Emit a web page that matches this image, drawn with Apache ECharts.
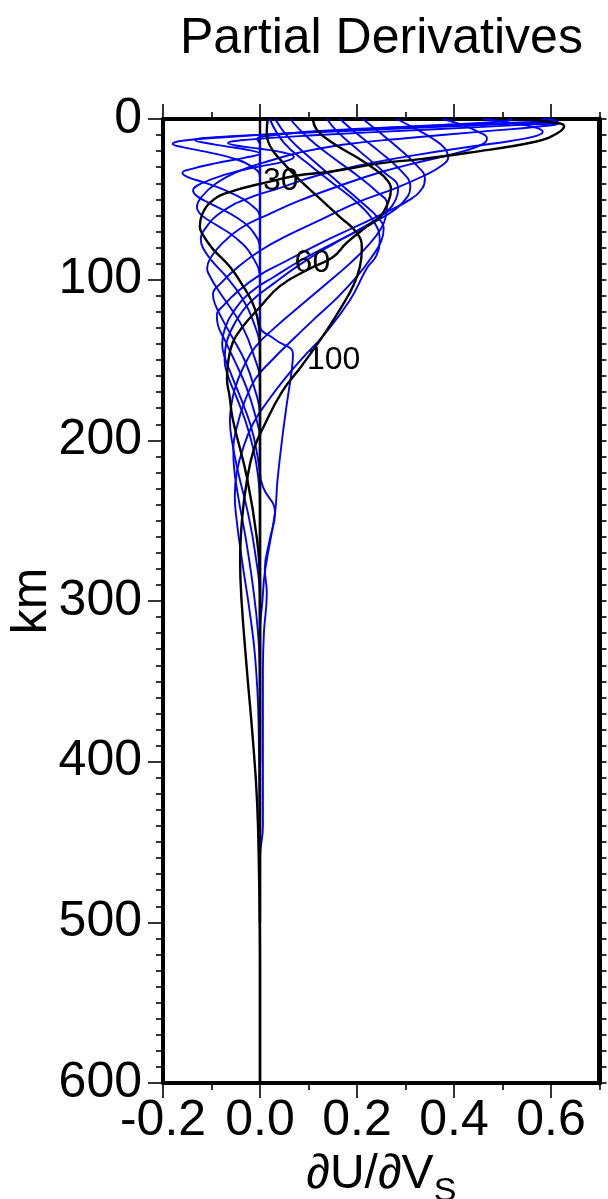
<!DOCTYPE html>
<html><head><meta charset="utf-8">
<script src="https://cdn.jsdelivr.net/npm/echarts@6/dist/echarts.min.js"></script>
<style>html,body{margin:0;padding:0;background:#fff}#c{width:608px;height:1199px}</style>
</head><body><div id="c"></div>
<script>
// Each kernel: [dU/dVs, depth km]
const k05 = [[0.52,0],[0.50,1.5],[0.35,4],[0.15,7],[0.03,10],[-0.006,12.5],[-0.003,14],[0,16],[0,40],[0,300]];
const k10 = [[0.58,0],[0.60,1],[0.50,2.5],[0.30,5],[0.08,8.5],[-0.08,11.5],[-0.16,13.5],[-0.18,15.5],[-0.16,17.5],[-0.11,20.5],[-0.05,25],[-0.015,30],[0,36],[0,60],[0,250]];
const k15 = [[0.59,0],[0.61,1.5],[0.52,3],[0.32,5.5],[0.1,8.5],[-0.05,10.5],[-0.12,12],[-0.134,13],[-0.12,14.5],[-0.07,17],[-0.02,19.5],[0.0,21.5],[-0.03,24],[-0.09,27.5],[-0.14,31],[-0.16,33.5],[-0.15,36],[-0.11,40],[-0.06,46],[-0.02,53],[0,62],[0,250]];
const k20 = [[0.6,0],[0.615,2],[0.55,3.5],[0.35,6.5],[0.12,10],[-0.03,13],[-0.066,15],[-0.05,16.5],[0.0,18.5],[0.05,21],[0.07,23.5],[0.05,26.5],[-0.01,30],[-0.07,34.5],[-0.12,40],[-0.138,44.5],[-0.13,48],[-0.1,53],[-0.05,61],[-0.015,70],[0,82],[0,250]];
const k25 = [[0.6,0],[0.615,2.5],[0.58,4.5],[0.45,8],[0.3,12],[0.17,16],[0.08,21],[0.02,26],[-0.04,32],[-0.09,40],[-0.122,49],[-0.13,55],[-0.12,60],[-0.09,66],[-0.05,74],[-0.015,86],[0,100],[0,300]];
const k30 = [[0.54,0],[0.6,2],[0.627,4.5],[0.612,9],[0.57,14],[0.43,21],[0.33,25],[0.25,27.5],[0.14,33],[0.08,35],[0.02,39],[-0.068,46],[-0.103,52],[-0.12,60],[-0.124,67],[-0.118,72],[-0.097,81],[-0.062,92],[-0.035,104],[-0.016,114],[-0.006,123],[0,137],[0,400]];
const k35 = [[0.46,0],[0.53,3],[0.57,5.5],[0.583,8],[0.57,10.5],[0.52,13.5],[0.44,17],[0.33,22],[0.22,28],[0.12,35],[0.04,43],[-0.03,50],[-0.08,58],[-0.11,67],[-0.122,75],[-0.118,80],[-0.1,88],[-0.07,98],[-0.04,110],[-0.015,125],[0,145],[0,400]];
const k40 = [[0.377,0],[0.42,4],[0.45,8],[0.468,12],[0.46,15.5],[0.42,20],[0.34,26],[0.25,33],[0.16,42],[0.08,51],[0.02,59],[-0.04,68],[-0.08,78],[-0.103,87],[-0.109,93],[-0.103,98],[-0.085,107],[-0.06,118],[-0.035,130],[-0.015,145],[0,165],[0,400]];
const k45 = [[0.282,0],[0.32,6],[0.355,12],[0.38,18],[0.388,24],[0.375,29],[0.34,35],[0.28,43],[0.2,52],[0.13,62],[0.06,72],[0.0,82],[-0.045,92],[-0.08,102],[-0.097,109],[-0.093,115],[-0.077,125],[-0.055,137],[-0.032,150],[-0.014,165],[0,185],[0,400]];
const k50 = [[0.212,0],[0.245,8],[0.285,18],[0.32,28],[0.34,37],[0.335,43],[0.31,50],[0.26,58],[0.19,68],[0.12,78],[0.05,89],[0,97],[-0.045,107],[-0.075,116],[-0.089,122],[-0.087,128],[-0.072,138],[-0.05,152],[-0.028,167],[-0.012,182],[0,200],[0,400]];
const k55 = [[0.165,0],[0.195,8],[0.245,20],[0.29,32],[0.31,42],[0.305,48],[0.28,56],[0.23,65],[0.16,76],[0.09,87],[0.03,98],[-0.02,108],[-0.055,120],[-0.072,130],[-0.078,140],[-0.073,148],[-0.058,160],[-0.038,175],[-0.02,190],[-0.008,205],[0,225],[0,450]];
const k57 = [[0.138,0],[0.16,8],[0.205,20],[0.255,33],[0.285,43],[0.28,50],[0.26,58],[0.215,67],[0.15,78],[0.085,90],[0.03,102],[-0.02,114],[-0.05,126],[-0.068,138],[-0.073,150],[-0.066,160],[-0.05,172],[-0.03,188],[-0.014,205],[-0.004,222],[0,240],[0,450]];
const k60 = [[0.109,0],[0.118,7],[0.15,15],[0.206,25],[0.24,32],[0.262,38],[0.27,44],[0.264,52],[0.247,61],[0.22,67],[0.179,77],[0.15,86],[0.097,94],[0.041,104],[0,117],[-0.035,129],[-0.056,139],[-0.066,152],[-0.068,162],[-0.063,172],[-0.056,187],[-0.027,223],[-0.006,262],[0,290],[0,500]];
const k70 = [[0.062,0],[0.1,12],[0.15,24],[0.2,35],[0.24,45],[0.262,53],[0.26,60],[0.25,68],[0.225,78],[0.185,90],[0.135,103],[0.08,117],[0.03,130],[-0.01,142],[-0.035,155],[-0.052,168],[-0.06,180],[-0.062,188],[-0.058,200],[-0.045,220],[-0.025,245],[-0.01,270],[0,300],[0,520]];
const k80 = [[0.031,0],[0.06,12],[0.11,26],[0.16,39],[0.21,52],[0.245,62],[0.255,68],[0.25,76],[0.23,86],[0.2,98],[0.16,111],[0.11,125],[0.065,138],[0.025,150],[-0.01,162],[-0.033,177],[-0.048,192],[-0.055,205],[-0.054,215],[-0.045,235],[-0.03,260],[-0.015,290],[-0.004,320],[0,350],[0,550]];
const k90 = [[0.02,0],[0.05,15],[0.1,28],[0.15,40],[0.2,52],[0.235,64],[0.247,76],[0.24,85],[0.22,93],[0.185,113],[0.13,135],[0.09,148],[0.05,162],[0.015,176],[-0.015,190],[-0.035,205],[-0.048,220],[-0.052,235],[-0.048,250],[-0.037,275],[-0.022,305],[-0.01,335],[-0.003,375],[-0.001,450],[0,525]];
const k100 = [[0.016,0],[0.014,7],[0.021,17],[0.047,27],[0.082,38],[0.118,48],[0.165,61],[0.2,71],[0.21,80],[0.206,92],[0.192,104],[0.17,116],[0.13,135],[0.085,154],[0.045,170],[0.01,190],[-0.012,205],[-0.027,225],[-0.037,249],[-0.041,275],[-0.038,300],[-0.027,343],[-0.015,385],[-0.006,425],[-0.002,470],[0,525],[0,600]];
const kX = [[0,16],[0,128],[0.03,137],[0.068,146],[0.066,155],[0.055,178],[0.047,196],[0.036,225],[0.031,245],[0.01,282],[0.005,300],[0,320],[0,420]];
const kY = [[0,30],[0,220],[0.006,229],[0.031,245],[0.02,262],[0.01,280],[0.014,295],[0.008,320],[0.006,343],[0.006,440],[0,460],[0,525]];
const zeroLine = [[0,0],[0,600]];

const blueCurves = [k05,k10,k15,k20,k25,k35,k40,k45,k50,k55,k57,k70,k80,k90,kX,kY];
const blackCurves = [k30,k60,k100];
const labelText = ['30','60','100'];
const labelX = [0.043,0.108,0.152];
const labelDepth = [38.6,89.9,150];

const xMajor = [-0.2,0,0.2,0.4,0.6];
const xMinor = [-0.1,0.1,0.3,0.5,0.7];

const FONT = 'Liberation Sans, Arial, Helvetica, sans-serif';
const chart = echarts.init(document.getElementById('c'), null, {renderer:'canvas'});

function xAx(pos, major, showLabel, showLine, extra){
  return Object.assign({
    type:'value', position:pos, min:-0.2, max:0.7, interval:0.1,
    axisLine:{show:showLine, onZero:false, lineStyle:{color:'#000', width:4}},
    axisTick:{show:true, customValues: major ? xMajor : xMinor, length: major ? 15 : 7, lineStyle:{color:'#000', width:1.6}},
    axisLabel:{show:showLabel, customValues:xMajor, formatter:v=>v.toFixed(1), fontSize:50, color:'#000', margin:13, fontFamily:FONT},
    splitLine:{show:false}
  }, extra||{});
}

const series = [];
series.push({type:'line', data:zeroLine, showSymbol:false, lineStyle:{color:'#000', width:2.4}, z:2, silent:true});
blueCurves.forEach(c => series.push({type:'line', data:c, showSymbol:false, smooth:0.45, lineStyle:{color:'#0000ff', width:1.9}, z:3, silent:true}));
blackCurves.forEach(c => series.push({type:'line', data:c, showSymbol:false, smooth:0.45, lineStyle:{color:'#000', width:2.4}, z:4, silent:true}));
series.push({type:'scatter', symbolSize:0, z:6, silent:true, itemStyle:{opacity:1},
  data: labelText.map((t,i)=>({name:t, value:[labelX[i], labelDepth[i]]})),
  label:{show:true, position:'inside', formatter:p=>p.name, fontSize:32, color:'#000', opacity:1, fontFamily:FONT}});

chart.setOption({
  animation:false,
  backgroundColor:'#fff',
  title:{text:'Partial Derivatives', left:175, top:9, textStyle:{fontSize:50, fontWeight:'normal', color:'#000', fontFamily:FONT}},
  grid:{left:163, right:8.5, top:119, bottom:116, containLabel:false, outerBoundsMode:'none'},
  xAxis:[
    xAx('bottom', true, true, true, {name:'\u2202U/\u2202V{s|S}', nameLocation:'middle', nameGap:44,
      nameTextStyle:{fontSize:48, color:'#000', fontFamily:FONT, rich:{s:{fontSize:34, color:'#000', fontFamily:FONT, padding:[34,0,0,0]}}}}),
    xAx('bottom', false, false, false),
    xAx('top', true, false, true),
    xAx('top', false, false, false)
  ],
  yAxis:[
    {type:'value', inverse:true, position:'left', min:0, max:600, interval:100,
     axisLine:{show:true, onZero:false, lineStyle:{color:'#000', width:4}},
     axisTick:{show:true, length:15, lineStyle:{color:'#000', width:1.6}},
     minorTick:{show:true, splitNumber:10, length:7, lineStyle:{color:'#000', width:1.6}},
     axisLabel:{fontSize:50, color:'#000', margin:21, fontFamily:FONT},
     splitLine:{show:false}, minorSplitLine:{show:false},
     name:'km', nameLocation:'middle', nameGap:106, nameRotate:90, nameMoveOverlap:false,
     nameTextStyle:{fontSize:50, color:'#000', fontFamily:FONT}},
    {type:'value', inverse:true, position:'right', min:0, max:600, interval:100,
     axisLine:{show:true, onZero:false, lineStyle:{color:'#000', width:5}},
     axisTick:{show:true, length:7, lineStyle:{color:'#000', width:1.6}},
     minorTick:{show:true, splitNumber:10, length:7, lineStyle:{color:'#000', width:1.6}},
     axisLabel:{show:false}, splitLine:{show:false}, minorSplitLine:{show:false}}
  ],
  series: series
});
</script>
</body></html>
